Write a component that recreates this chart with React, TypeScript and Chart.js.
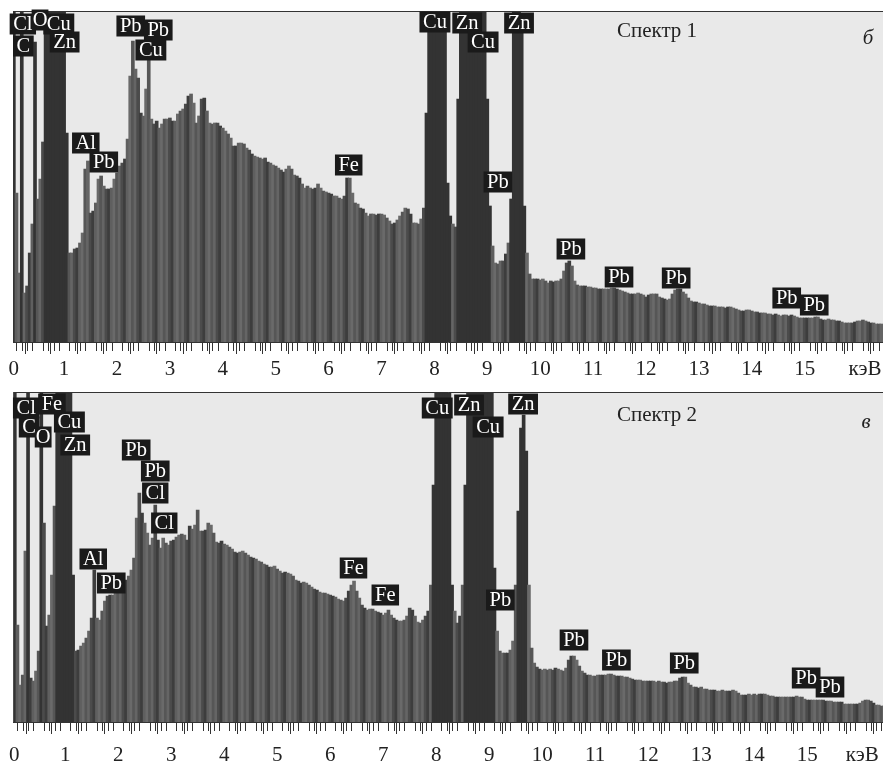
import React, { useEffect, useRef } from "react";
import { Chart, registerables } from "chart.js";

Chart.register(...registerables);

const tickLabels = ["0", "1", "2", "3", "4", "5", "6", "7", "8", "9", "10", "11", "12", "13", "14", "15"];
const binStep = 0.05;

const spectrum1 = [
  330,149,69,330,49,56,89,118,300,143,163,200,330,330,330,330,330,330,330,330,
  209,89,89,93,94,99,109,173,181,129,131,139,163,166,156,153,153,154,163,169,
  176,179,183,203,266,301,273,264,229,226,253,283,223,218,221,214,218,223,223,224,
  221,221,228,231,233,238,246,248,239,219,226,243,244,231,219,218,219,219,216,214,
  211,208,204,196,196,199,199,198,194,192,188,186,185,184,183,184,180,179,177,176,
  174,172,170,173,176,173,167,166,164,158,154,156,154,153,154,158,154,151,150,149,
  148,146,146,144,143,146,164,164,149,139,138,134,133,129,126,128,128,127,128,128,
  127,124,121,118,119,122,126,130,134,133,128,119,119,118,123,134,229,330,330,330,
  330,330,330,330,159,126,118,115,243,330,330,330,330,330,330,330,330,330,330,243,
  136,96,79,78,81,81,88,99,143,330,330,330,309,136,89,68,63,63,63,62,
  63,61,59,61,60,61,61,63,71,79,81,76,61,57,56,56,56,55,55,54,
  54,53,53,53,53,53,54,54,53,52,51,50,49,48,48,48,49,48,47,45,
  47,48,48,48,45,44,43,42,43,48,52,53,53,50,48,44,41,40,40,39,
  38,38,37,36,36,36,35,35,35,34,35,35,34,33,32,31,31,32,32,31,
  30,30,29,29,29,28,28,27,28,27,26,27,27,26,27,26,25,24,24,24,
  24,24,24,25,25,23,22,22,23,22,22,21,21,20,19,19,19,19,20,21,
  21,22,21,20,19,19,18,18,18,
];

const spectrum2 = [
  329,97,37,47,171,329,44,41,51,71,329,199,96,107,147,216,329,329,329,329,
  329,329,147,71,72,76,79,84,91,104,152,104,102,111,121,126,127,127,129,131,
  134,137,142,146,152,164,204,229,209,199,189,177,184,217,182,174,184,179,177,181,
  182,185,187,188,187,182,196,193,197,212,191,191,192,199,197,189,180,179,181,178,
  177,175,173,170,169,170,171,169,167,165,164,163,161,160,158,157,155,155,156,153,
  151,149,150,149,148,146,142,141,139,140,139,137,135,133,132,130,129,129,128,127,
  126,125,123,122,121,124,131,137,141,131,124,117,114,112,113,113,111,110,109,107,
  109,112,107,104,102,101,101,102,106,114,112,106,100,99,102,106,111,137,237,329,
  329,329,329,329,329,137,111,99,106,137,237,329,329,329,329,329,329,329,329,329,
  329,154,91,71,69,69,69,72,81,137,211,294,307,271,137,74,59,55,53,52,
  53,52,53,52,54,53,52,51,54,62,66,66,62,56,51,49,47,47,46,46,
  47,47,47,47,48,48,47,46,46,46,45,45,44,43,42,42,42,41,41,41,
  41,41,40,41,40,40,39,40,40,41,41,44,45,45,39,37,35,35,34,35,
  33,33,32,32,32,31,31,32,31,31,31,32,31,29,27,27,27,28,27,28,
  27,28,28,28,27,26,26,25,25,25,25,25,25,25,25,26,25,25,23,22,
  22,22,22,22,22,22,21,21,21,20,20,20,20,18,18,18,18,18,18,19,
  21,22,22,21,19,17,17,16,16,
];

// Element labels: [text, energy keV, counts at the label's centre]
const peaks1: [string, number, number][] = [
  ["Cl",0.22,318],["Cu",0.9,318],["C",0.23,296],["O",0.545,322],["Zn",1.01,300],
  ["Pb",2.26,316],["Pb",2.78,312],["Cu",2.64,292],["Al",1.41,199],["Pb",1.75,180],
  ["Fe",6.38,177],["Cu",8.01,320],["Zn",8.62,319],["Cu",8.92,300],["Zn",9.6,319],
  ["Pb",9.2,160],["Pb",10.58,93],["Pb",11.49,65],["Pb",12.57,64],["Pb",14.66,44],["Pb",15.18,37],
];
const peaks2: [string, number, number][] = [
  ["Cl",0.264,314],["Fe",0.75,318],["C",0.32,295],["O",0.585,285],["Cu",1.08,300],["Zn",1.19,277],
  ["Pb",2.34,272],["Pb",2.7,251],["Cl",2.7,229],["Cl",2.87,199],["Al",1.53,163],["Pb",1.87,139],
  ["Fe",6.44,154],["Fe",7.04,127],["Cu",8.02,314],["Zn",8.62,317],["Cu",8.98,295],["Zn",9.64,318],
  ["Pb",9.21,122],["Pb",10.6,82],["Pb",11.4,62],["Pb",12.68,59],["Pb",14.98,44],["Pb",15.43,35],
];

const darkBands1 = [[0.05,0.05],[0.2,0.2],[0.45,0.45],[0.65,1.05],[7.85,8.3],[8.45,9.05],[9.45,9.7]];
const darkBands2 = [[0.05,0.05],[0.3,0.3],[0.55,0.55],[0.85,1.15],[7.95,8.3],[8.55,9.1],[9.55,9.7]];
const stripeShades = ["#3d3d3d", "#5f5f5f", "#6a6a6a", "#565656", "#656565", "#4b4b4b"];

const SERIF = '"Liberation Serif", serif';

function makeChart(canvas: HTMLCanvasElement, p: any) {
  const points = p.values.map((y: number, i: number) => ({ x: +((i + 1) * binStep).toFixed(2), y }));
  const colors = points.map((pt: any, i: number) =>
    p.bands.some((b: number[]) => pt.x >= b[0] - 0.001 && pt.x <= b[1] + 0.001)
      ? "#333333"
      : stripeShades[i % stripeShades.length]
  );
  const decor = {
    id: "decor",
    beforeDraw(chart: any) {
      const { ctx, chartArea: a } = chart;
      ctx.save();
      ctx.fillStyle = "#e9e9e9";
      ctx.fillRect(a.left, a.top, a.right - a.left, a.bottom - a.top);
      ctx.restore();
    },
    afterDraw(chart: any) {
      const { ctx, chartArea: a, scales } = chart;
      const xs = scales.x, ys = scales.y;
      ctx.save();
      ctx.strokeStyle = "#333";
      ctx.lineWidth = 1;
      ctx.beginPath();
      ctx.moveTo(a.left, a.top - 0.5);
      ctx.lineTo(a.right, a.top - 0.5);
      for (let t = 1; t <= 164; t++) {
        if (t % 5 === 0) continue;
        const px = Math.round(xs.getPixelForValue(t / 10)) + 0.5;
        ctx.moveTo(px, a.bottom);
        ctx.lineTo(px, a.bottom + 9);
      }
      ctx.stroke();

      ctx.font = `20.5px ${SERIF}`;
      ctx.textAlign = "center";
      ctx.textBaseline = "middle";
      for (const [text, k, h] of p.peaks) {
        const w = ctx.measureText(text).width + (text === "O" ? 2 : 7);
        const cx = xs.getPixelForValue(k), cy = ys.getPixelForValue(h);
        ctx.fillStyle = "#1a1a1a";
        ctx.fillRect(cx - w / 2, cy - 10.5, w, 21);
      }
      ctx.fillStyle = "#fff";
      for (const [text, k, h] of p.peaks) {
        ctx.fillText(text, xs.getPixelForValue(k), ys.getPixelForValue(h) + 1);
      }

      ctx.fillStyle = "#222";
      ctx.font = `21px ${SERIF}`;
      ctx.fillText(p.title, p.titleAt[0], p.titleAt[1]);
      ctx.font = `italic 21px ${SERIF}`;
      ctx.fillText(p.letter, p.letterAt[0], p.letterAt[1]);
      ctx.font = `21px ${SERIF}`;
      ctx.fillText("кэВ", xs.getPixelForValue(p.unitAt[0]), p.unitAt[1]);
      ctx.restore();
    },
  };
  return new Chart(canvas, {
    type: "bar",
    data: {
      datasets: [
        {
          data: points,
          backgroundColor: colors,
          borderWidth: 0,
          barThickness: 3,
          barPercentage: 1,
          categoryPercentage: 1,
        } as any,
      ],
    },
    options: {
      animation: false,
      responsive: false,
      devicePixelRatio: 1,
      layout: { padding: { left: 13, right: 0, top: p.top, bottom: 0 } },
      plugins: { legend: { display: false }, tooltip: { enabled: false }, title: { display: false } },
      scales: {
        x: {
          type: "linear",
          min: p.xMin,
          max: p.xMax,
          offset: false,
          afterBuildTicks(scale: any) {
            const list = [{ value: p.zeroTick }];
            for (let t = 1; t <= 32; t++) list.push({ value: t / 2 });
            scale.ticks = list;
          },
          afterFit(scale: any) {
            scale.height = p.axisHeight;
          },
          ticks: {
            autoSkip: false,
            maxRotation: 0,
            minRotation: 0,
            padding: p.labelPad,
            color: "#222",
            font: { family: SERIF, size: 21 },
            callback(v: any) {
              if (v === p.zeroTick) return tickLabels[0];
              return Number.isInteger(v) ? tickLabels[v] ?? "" : "";
            },
          },
          grid: { drawOnChartArea: false, drawTicks: true, tickLength: 12, tickColor: "#333", tickWidth: 1 },
          border: { display: true, color: "#333", width: 1 },
        },
        y: { display: false, min: 0, max: p.yMax },
      },
    } as any,
    plugins: [decor],
  });
}

const panels = [
  {
    values: spectrum1, peaks: peaks1, bands: darkBands1, title: "Спектр 1", letter: "б",
    top: 12, height: 385, canvasTop: 0, axisHeight: 43, labelPad: 3, yMax: 330,
    xMin: 0.034, xMax: 16.48, zeroTick: 0.05,
    titleAt: [657, 31], letterAt: [868, 38], unitAt: [16.14, 369],
  },
  {
    values: spectrum2, peaks: peaks2, bands: darkBands2, title: "Спектр 2", letter: "в",
    top: 8, height: 380, canvasTop: 385, axisHeight: 43, labelPad: 9, yMax: 329,
    xMin: 0.019, xMax: 16.43, zeroTick: 0.04,
    titleAt: [657, 30], letterAt: [866, 37], unitAt: [16.04, 370],
  },
];

function Panel({ p }: { p: any }) {
  const ref = useRef<HTMLCanvasElement>(null);
  useEffect(() => {
    const chart = makeChart(ref.current!, p);
    return () => chart.destroy();
  }, [p]);
  return (
    <canvas
      ref={ref}
      width={883}
      height={p.height}
      style={{ position: "absolute", left: 0, top: p.canvasTop, width: 883, height: p.height, display: "block", filter: "blur(0.4px)" }}
    />
  );
}

export default function App() {
  return (
    <div style={{ position: "absolute", left: 0, top: 0, width: 883, height: 765, background: "#fff", overflow: "hidden" }}>
      {panels.map((p) => (
        <Panel key={p.title} p={p} />
      ))}
    </div>
  );
}
